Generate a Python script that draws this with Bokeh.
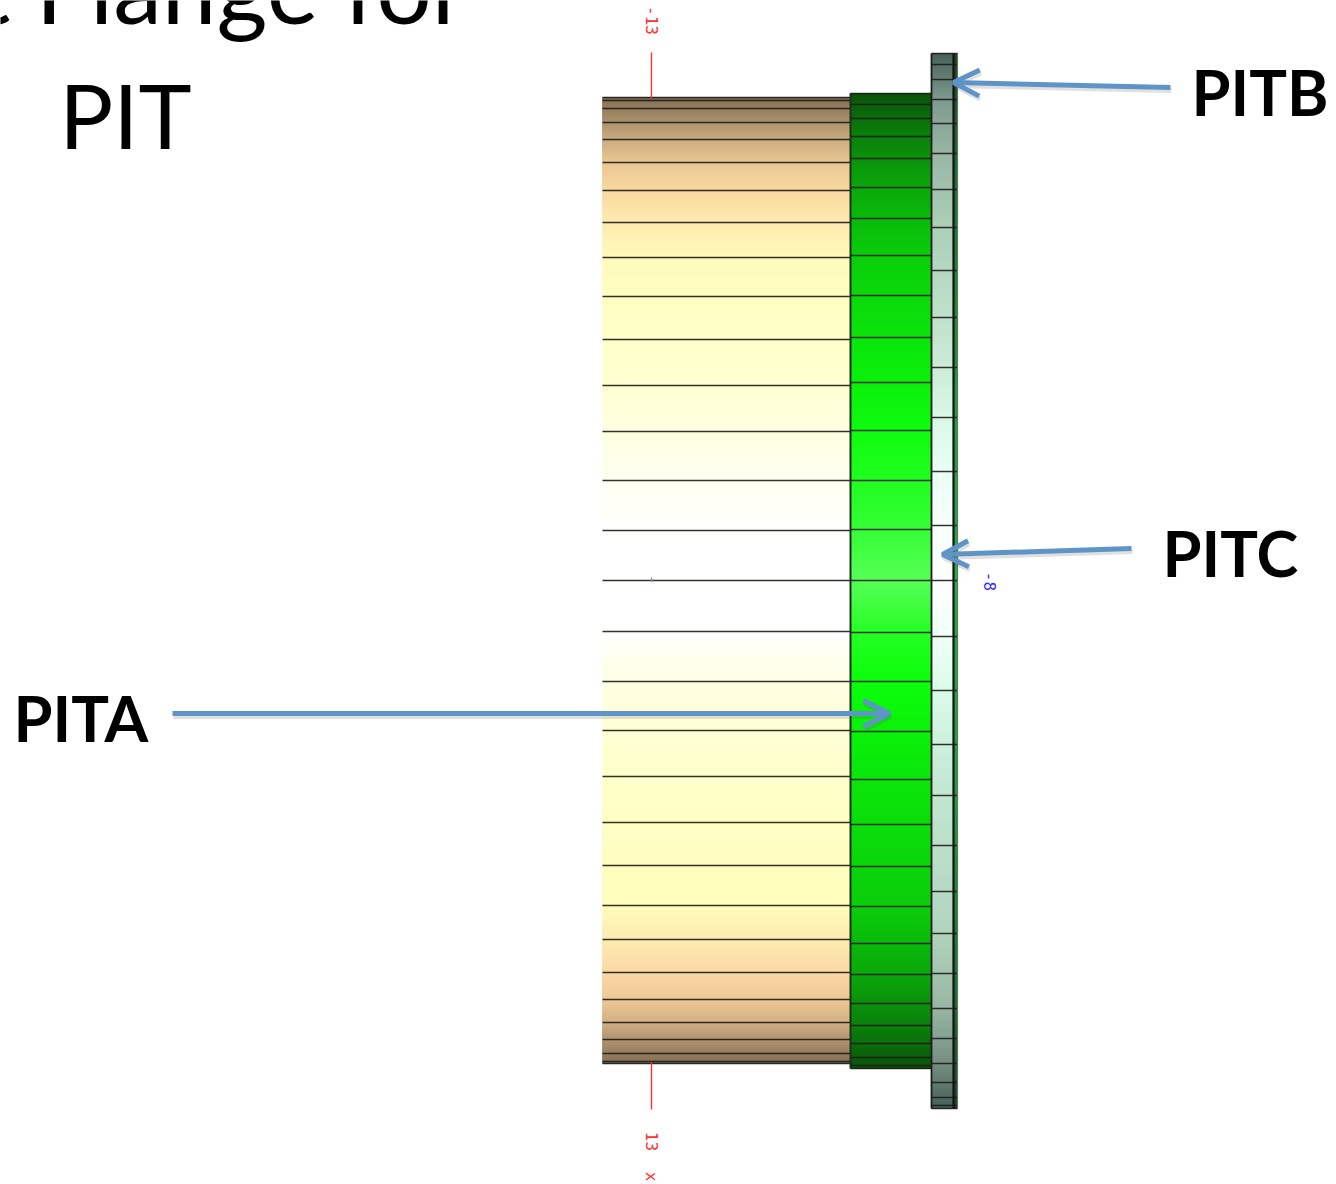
import numpy as np
from bokeh.plotting import figure
from bokeh.models import Range1d, Arrow, OpenHead
from bokeh.core.properties import value
from bokeh.embed import file_html
from bokeh.resources import INLINE

# horizontal band edges of each flange column
tan_edges = [97, 100, 108, 122, 139, 162, 190, 222, 257, 296, 339, 385, 431, 480, 530, 580, 631,
             681, 730, 776, 822, 865, 905, 939, 972, 999, 1022, 1039, 1053, 1061, 1063]
green_edges = [93, 104, 118, 136, 158, 187, 218, 255, 295, 337, 382, 430, 480, 529, 580, 632,
               681, 731, 779, 824, 866, 906, 943, 974, 1003, 1025, 1043, 1057, 1065, 1068]
light_edges = [53, 64, 79, 99, 123, 153, 189, 227, 270, 317, 367, 417, 471, 525, 580, 636, 690,
               744, 795, 845, 891, 933, 973, 1008, 1038, 1063, 1082, 1097, 1105, 1108]

# colour stops of the shading
tan_stops = [(97, "#7e684c"), (122, "#a88c66"), (139, "#c8a87a"), (162, "#e8c48e"), (190, "#f9d79c"),
             (222, "#fde9ac"), (257, "#fefab8"), (296, "#ffffbf"), (385, "#ffffd0"), (480, "#fffff0"),
             (530, "#ffffff"), (630, "#ffffff"), (681, "#ffffe2"), (776, "#ffffc8"), (905, "#fffdb8"),
             (972, "#fad7a0"), (999, "#eec690"), (1022, "#d0ad80"), (1039, "#ae9069"), (1063, "#7e684c")]
green_stops = [(93, "#004c00"), (136, "#007c00"), (187, "#00a400"), (255, "#00cc00"), (340, "#00e400"),
               (430, "#04fc04"), (530, "#2cff2c"), (580, "#50ff50"), (632, "#1cff1c"), (681, "#00ff00"),
               (780, "#00e400"), (906, "#00cc00"), (974, "#00a400"), (1025, "#007c00"), (1068, "#004c00")]
light_stops = [(53, "#3f5a50"), (99, "#78968a"), (153, "#94b3a0"), (227, "#a8cdb5"), (317, "#bce0c9"),
               (417, "#d8f7e5"), (471, "#e8fff6"), (525, "#f8fffc"), (580, "#ffffff"), (636, "#f0fff8"),
               (690, "#d8fbe8"), (795, "#bee5cf"), (933, "#aed2bb"), (1008, "#93b39f"), (1063, "#708a7c"),
               (1108, "#3e5850")]
strip_stops = [(53, "#123a1c"), (153, "#0c6a22"), (417, "#10a030"), (580, "#14b038"),
               (795, "#10a030"), (1008, "#0c6a22"), (1108, "#123a1c")]

# columns: left, right
tan_x = (602, 850)
green_x = (850, 931)
light_x = (931, 953)
strip_x = (953, 957)

# annotation texts
labels = ["PITA", "PITB", "PITC"]
label_x = [13, 1191, 1162]
label_y = [717, 91, 552]

# arrows: tail and tip
arrow_tail_x = [172, 1170, 1131]
arrow_tail_y = [713, 87, 548]
arrow_tip_x = [889, 953, 942]
arrow_tip_y = [713, 82, 554]

p = figure(width=1336, height=1184, output_backend="svg", toolbar_location=None,
           x_range=Range1d(0, 1336), y_range=Range1d(1184, 0),
           min_border=0, outline_line_color=None, background_fill_color="white")
p.axis.visible = False
p.grid.visible = False


def rgb(h):
    return [int(h[i:i + 2], 16) for i in (1, 3, 5)]


def shade(x, stops, edges, line="#1c1c18"):
    ys, cols = zip(*stops)
    arr = np.array([rgb(c) for c in cols], dtype=float)
    rows = np.arange(edges[0], edges[-1])
    mid = rows + 0.5
    fill = ["#%02x%02x%02x" % tuple(int(round(np.interp(m, ys, arr[:, k]))) for k in range(3)) for m in mid]
    p.quad(left=x[0], right=x[1], top=rows, bottom=rows + 1, fill_color=fill, fill_alpha=1.0,
           line_color=fill, line_alpha=1.0, line_width=0.6)
    p.segment(x0=x[0], x1=x[1], y0=edges, y1=edges, line_color=line, line_width=1.5, line_alpha=0.9)


shade(strip_x, strip_stops, light_edges)
shade(tan_x, tan_stops, tan_edges)
shade(green_x, green_stops, green_edges)
shade(light_x, light_stops, light_edges)

# column outlines
p.segment(x0=[850, 931, 953, 957],
          x1=[850, 931, 953, 957],
          y0=[green_edges[0], light_edges[0], light_edges[0], light_edges[0]],
          y1=[green_edges[-1], light_edges[-1], light_edges[-1], light_edges[-1]],
          line_color=["#1e2e1e", "#1c1c1c", "#141414", "#6a6f6a"],
          line_width=[2, 1.8, 2.2, 1.2])

# red centre line marks and small green tick
p.segment(x0=[651, 651, 651], x1=[651, 651, 651], y0=[52, 1062, 577], y1=[98, 1109, 581],
          line_color=["#ff3030", "#ff3030", "#70a080"], line_width=1.4)
p.text(x=[651, 651, 651], y=[20, 1141, 1176], text=["-13", "13", "x"], angle=-np.pi / 2,
       text_color="#ff3030", text_font=value("DejaVu Sans Mono"), text_font_size="16px",
       text_align="center", text_baseline="middle")
p.text(x=[989], y=[581], text=["-8"], angle=-np.pi / 2,
       text_color="#3030ff", text_font=value("DejaVu Sans Mono"), text_font_size="16px",
       text_align="center", text_baseline="middle")

# arrows with soft shadow
for tx, ty, hx, hy in zip(arrow_tail_x, arrow_tail_y, arrow_tip_x, arrow_tip_y):
    p.add_layout(Arrow(end=OpenHead(size=26, line_color="#555555", line_width=5, line_alpha=0.18),
                       x_start=tx + 1, y_start=ty + 3, x_end=hx + 1, y_end=hy + 3,
                       line_color="#555555", line_width=5, line_alpha=0.18))
    p.add_layout(Arrow(end=OpenHead(size=26, line_color="#5f94c8", line_width=5),
                       x_start=tx, y_start=ty, x_end=hx, y_end=hy,
                       line_color="#5f94c8", line_width=5))

p.text(x=[467], y=[-15], text=["t Flange for"], text_font=value("Lato"), text_font_size="98px",
       text_color="#000000", text_align="right", text_baseline="alphabetic")
p.text(x=[125], y=[113], text=["PIT"], text_font=value("Lato"), text_font_size="90px",
       text_color="#000000", text_align="center", text_baseline="alphabetic")
p.text(x=label_x, y=label_y, text=labels, text_font=value("Lato"), text_font_style="bold",
       text_font_size="63px", text_color="#000000", text_align="left", text_baseline="alphabetic")

open("out.html", "w").write(file_html(p, INLINE))
